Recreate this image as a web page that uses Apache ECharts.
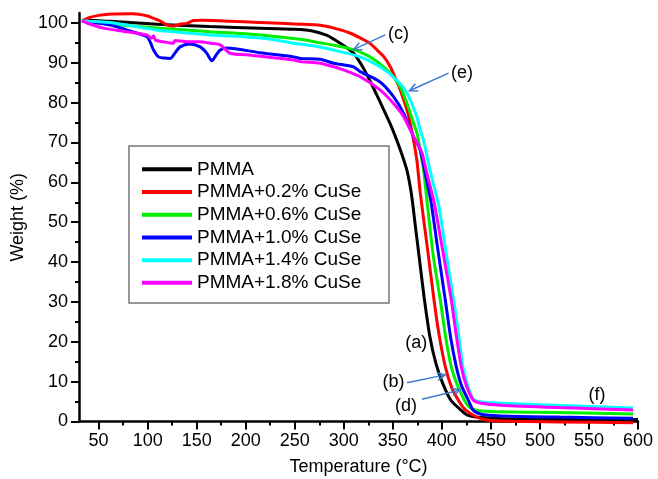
<!DOCTYPE html>
<html><head><meta charset="utf-8">
<script src="https://cdn.jsdelivr.net/npm/echarts@6/dist/echarts.min.js"></script>
<style>html,body{margin:0;padding:0;background:#fff}#c{width:658px;height:479px}</style>
</head><body><div id="c"></div>
<script>
// ---------- data (Temperature °C, Weight %) ----------
const seriesNames = ['PMMA','PMMA+0.2% CuSe','PMMA+0.6% CuSe','PMMA+1.0% CuSe','PMMA+1.4% CuSe','PMMA+1.8% CuSe'];
const seriesColors = ['#000000','#ff0000','#00ee00','#0000ff','#00ffff','#ff00ff'];

const pmma = [[33,100.6],[45,100.6],[62,100.4],[110,99.7],[163,99.1],[215,98.7],[250,98.4],[268,98.0],[283,96.9],[290,95.9],[300,94.3],[310,92.4],[318,89.5],[324,86.8],[332,82.8],[340.5,78.3],[348,74.3],[354,70.6],[359,67.2],[364.4,63.0],[369,57.0],[373,49.0],[377,41.0],[382,31.0],[388,21.0],[394,14.5],[401,9.5],[409,5.4],[418.8,3.0],[426,1.6],[439,1.0],[480,0.6],[600,0.5]];
const cuse02 = [[33,100.5],[40,101.3],[50,101.9],[60,102.2],[85,102.3],[99,101.8],[105.5,101.2],[112,100.6],[119.5,99.5],[126,99.2],[133,99.7],[140,99.9],[146.6,100.6],[156,100.7],[215,100.1],[255,99.7],[276,99.4],[290,98.7],[305,97.6],[317,96.2],[326,95.0],[334,93.2],[341,91.5],[347.4,89.0],[352,86.5],[357.6,83.2],[364.4,78.2],[367.8,74.8],[371.1,70.6],[374.5,65.6],[378,57.3],[385,44.0],[392,30.5],[397,22.0],[403.5,13.75],[410,8.5],[416.7,5.4],[423,3.2],[430,1.9],[437,1.0],[445,0.4],[460,0.1],[520,-0.1],[595,-0.3]];
const cuse06 = [[33,100.5],[62,99.7],[113,98.7],[164,97.8],[215,97.0],[255.5,95.9],[276,95.0],[290,94.4],[310,93.3],[323,92.0],[334,90.3],[347.4,87.4],[357.6,84.0],[364.4,79.8],[371,75.0],[375,72.0],[378,68.0],[381.3,63.1],[385,55.0],[391,42.0],[398.4,30.5],[404,21.0],[409.6,13.75],[416,9.0],[422.9,5.4],[428,3.6],[435,2.8],[450,2.5],[500,2.3],[595,1.9]];
const cuse10 = [[33,100.5],[62,99.5],[79,98.2],[99,96.6],[103,95.0],[106,93.2],[111,91.5],[117,91.2],[123,91.1],[128,92.5],[133,94.0],[143,94.7],[153.5,94.0],[160,92.5],[165.4,90.5],[170,92.0],[174,93.2],[180.7,93.7],[215,92.5],[248,91.5],[255.5,91.1],[276,90.9],[289.5,89.9],[309.6,89.0],[316.7,87.8],[337,85.2],[350.7,81.5],[361,77.3],[371.1,71.5],[378,68.1],[384,61.0],[389,55.0],[396,43.0],[403.5,30.5],[409,21.0],[414.7,13.75],[420,9.0],[426.9,5.4],[432,2.8],[440,1.8],[460,1.4],[520,1.1],[595,0.8]];
const cuse14 = [[33,100.5],[62,100.1],[113,98.1],[164,97.0],[215,96.2],[255.5,94.7],[270,94.2],[289.5,93.2],[316.7,91.5],[337,89.0],[354,85.7],[364.4,82.4],[374.5,76.5],[378,73.1],[381.3,70.6],[387,64.0],[392,59.0],[397,54.0],[404.5,42.0],[412,30.5],[417,22.0],[421.5,13.75],[426.5,9.0],[432,5.6],[437,5.0],[450,4.7],[500,4.2],[595,3.4]];
const cuse18 = [[33,100.5],[40,99.8],[55,98.7],[79,97.8],[99,97.0],[104,96.2],[106,96.8],[108,95.7],[116,95.3],[126,94.9],[128,95.6],[140,95.3],[153.5,95.3],[164,94.9],[174,94.5],[184,92.4],[201,92.0],[249,90.7],[255.5,90.3],[276,89.9],[289.5,89.0],[300,88.2],[316.7,86.5],[337,83.2],[350.7,79.8],[361,76.5],[371.1,71.5],[379.6,67.5],[384,63.0],[388.2,58.9],[392.5,54.5],[401.5,42.0],[409.6,30.5],[414.5,22.0],[419.8,13.75],[425,9.0],[432,5.4],[440,4.6],[460,4.1],[520,3.5],[595,2.9]];
const seriesData = [pmma, cuse02, cuse06, cuse10, cuse14, cuse18];

const xTicks = [50,100,150,200,250,300,350,400,450,500,550,600];
const xMinorTicks = [75,125,175,225,275,325,375,425,475,525,575];
const yTicks = [0,10,20,30,40,50,60,70,80,90,100];
const yMinorTicks = [5,15,25,35,45,55,65,75,85,95];

// annotation labels and arrows (data coordinates)
const labelTexts = ['(a)','(b)','(c)','(d)','(e)','(f)'];
const labelPos = [[373.9,19.7],[350.7,10.0],[355.8,97.2],[363.5,3.9],[420.5,87.4],[558.3,6.65]];
const arrowFrom = [[342.2,97.0],[406.8,87.4],[364.4,9.7],[379.7,5.6]];
const arrowTo   = [[309.9,93.3],[367.0,83.0],[403.5,11.7],[418.8,7.9]];

// ---------- chart ----------
const FONT = "'Liberation Sans', Arial, Helvetica, sans-serif";
const chart = echarts.init(document.getElementById('c'), null, {renderer:'canvas'});
const gridBox = {left:79, right:20, top:13, bottom:57.5, outerBoundsMode:'none'};
const axisCommon = {type:'value', splitLine:{show:false}};

chart.setOption({
  animation:false,
  backgroundColor:'#fff',
  grid:[Object.assign({},gridBox), Object.assign({},gridBox)],
  xAxis:[
    Object.assign({}, axisCommon, {gridIndex:0, min:30, max:600,
      axisLine:{lineStyle:{color:'#000', width:2.5}},
      axisTick:{customValues:xTicks, length:8, lineStyle:{color:'#000', width:2}},
      axisLabel:{customValues:xTicks, fontSize:18, fontFamily:FONT, color:'#000', margin:11},
      name:'Temperature (°C)', nameLocation:'middle', nameGap:37,
      nameTextStyle:{fontSize:18, fontFamily:FONT, color:'#000'}}),
    Object.assign({}, axisCommon, {gridIndex:1, min:30, max:600,
      axisLine:{show:false},
      axisTick:{customValues:xMinorTicks, length:4, lineStyle:{color:'#000', width:2}},
      axisLabel:{show:false}})
  ],
  yAxis:[
    Object.assign({}, axisCommon, {gridIndex:0, min:0, max:102.5,
      axisLine:{show:true, lineStyle:{color:'#000', width:2.5}},
      axisTick:{show:true, customValues:yTicks, length:8, lineStyle:{color:'#000', width:2}},
      axisLabel:{customValues:yTicks, fontSize:18, fontFamily:FONT, color:'#000', margin:11},
      name:'Weight (%)', nameLocation:'middle', nameGap:43,
      nameTextStyle:{fontSize:18, fontFamily:FONT, color:'#000'}}),
    Object.assign({}, axisCommon, {gridIndex:1, min:0, max:102.5,
      axisLine:{show:false},
      axisTick:{show:true, customValues:yMinorTicks, length:4, lineStyle:{color:'#000', width:2}},
      axisLabel:{show:false}})
  ],
  legend:{
    orient:'vertical', left:142, top:158, padding:0, itemGap:0,
    itemWidth:50, itemHeight:4, icon:'rect', selectedMode:false,
    textStyle:{fontSize:19, fontFamily:FONT, color:'#000', lineHeight:22.7},
    data:seriesNames
  },
  series: seriesNames.map((n,i)=>({
    name:n, type:'line', xAxisIndex:0, yAxisIndex:0,
    data:seriesData[i], showSymbol:false, symbol:'none',
    smooth:0.25, clip:false,
    lineStyle:{color:seriesColors[i], width:3},
    itemStyle:{color:seriesColors[i]},
    z:2+i
  }))
});

// annotations
const toPx = p => chart.convertToPixel({xAxisIndex:0, yAxisIndex:0}, p);
const graphics = [{
  type:'rect', shape:{x:129, y:146, width:260, height:157},
  style:{fill:'none', stroke:'#777', lineWidth:1.5}, z:1
}];
labelTexts.forEach((t,i)=>{
  const p = toPx(labelPos[i]);
  graphics.push({type:'text', x:p[0], y:p[1], z:20,
    style:{text:t, fontSize:18, fontFamily:FONT, fill:'#000', align:'center', verticalAlign:'middle'}});
});
arrowFrom.forEach((f,i)=>{
  const a = toPx(f), b = toPx(arrowTo[i]);
  const ang = Math.atan2(a[1]-b[1], a[0]-b[0]);
  const L = 9, w = 0.45;
  const h1 = [b[0]+L*Math.cos(ang+w), b[1]+L*Math.sin(ang+w)];
  const h2 = [b[0]+L*Math.cos(ang-w), b[1]+L*Math.sin(ang-w)];
  graphics.push({type:'polyline', z:20, shape:{points:[a,b]}, style:{stroke:'#3b7dd0', lineWidth:1.5, fill:null}});
  graphics.push({type:'polyline', z:20, shape:{points:[h1,b,h2]}, style:{stroke:'#3b7dd0', lineWidth:1.5, fill:null}});
});
chart.setOption({graphic:graphics});
</script>
</body></html>
